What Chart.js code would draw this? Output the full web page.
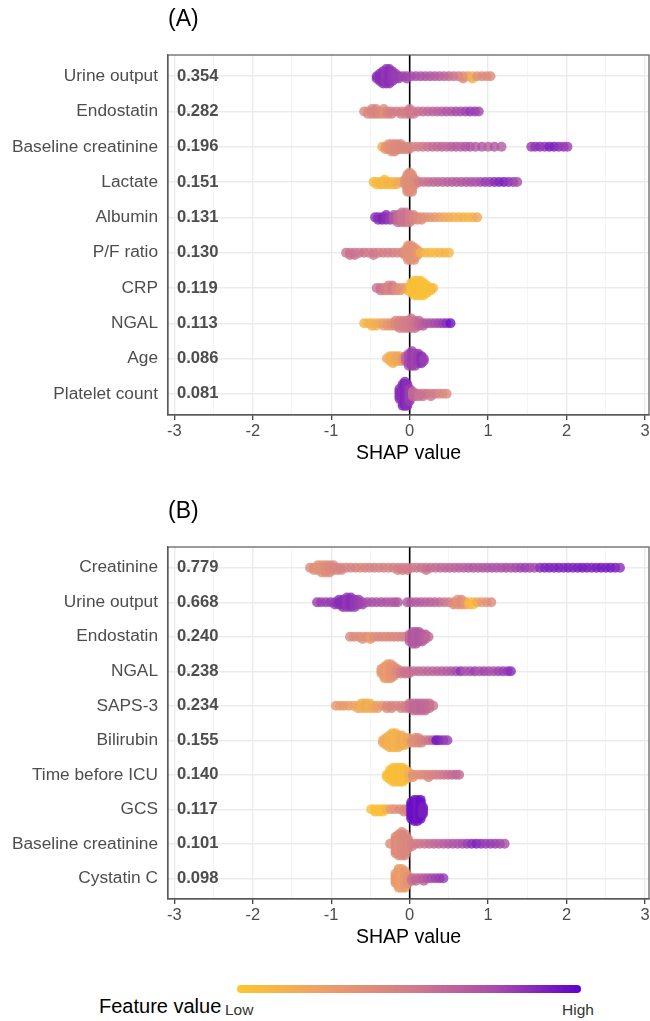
<!DOCTYPE html>
<html>
<head>
<meta charset="utf-8">
<script src="https://cdn.jsdelivr.net/npm/chart.js@4.4.1/dist/chart.umd.min.js"></script>
<style>
  body { margin: 0; background: #fff; font-family: "Liberation Sans", Arial, sans-serif; overflow: hidden; }
  #wrap { position: relative; width: 650px; height: 1021px; overflow: hidden; }
  canvas { position: absolute; left: 0; }
  #chartA { top: 0; }
  #chartB { top: 492px; }
  .lg { position: absolute; line-height: 1; white-space: nowrap; }
  #lgTitle { left: 99px; top: 996px; font-size: 20px; color: #000; }
  #lgBar { position: absolute; left: 237px; top: 985px; width: 344px; height: 8px; border-radius: 4px; }
  #lgLow { left: 225px; top: 1002px; font-size: 15.5px; color: #333; }
  #lgHigh { left: 562px; top: 1002px; font-size: 15.5px; color: #333; }
</style>
</head>
<body>
<div id="wrap">
  <canvas id="chartA" width="654" height="470"></canvas>
  <canvas id="chartB" width="654" height="462"></canvas>
  <div class="lg" id="lgTitle">Feature value</div>
  <div id="lgBar"></div>
  <div class="lg" id="lgLow">Low</div>
  <div class="lg" id="lgHigh">High</div>
</div>
<script>
// Panel A: features, mean |SHAP|
const featuresA = ['Urine output', 'Endostatin', 'Baseline creatinine', 'Lactate', 'Albumin',
  'P/F ratio', 'CRP', 'NGAL', 'Age', 'Platelet count'];
const importanceA = [0.354, 0.282, 0.196, 0.151, 0.131, 0.130, 0.119, 0.113, 0.086, 0.081];

// Panel B
const featuresB = ['Creatinine', 'Urine output', 'Endostatin', 'NGAL', 'SAPS-3', 'Bilirubin',
  'Time before ICU', 'GCS', 'Baseline creatinine', 'Cystatin C'];
const importanceB = [0.779, 0.668, 0.240, 0.238, 0.234, 0.155, 0.140, 0.117, 0.101, 0.098];

const a_urine = [[-0.42,2,.85],[-0.38,4,.85],[-0.34,6,.85],[-0.30,7,.82],[-0.26,7,.85],[-0.22,5,.82],[-0.18,3,.8],[-0.14,2,.8],[-0.09,1,.78],[-0.04,2,.78],[0.02,1,.76],[0.08,1,.75],[0.14,1,.72],[0.2,1,.72],[0.26,1,.7],[0.32,1,.68],[0.38,1,.66],[0.44,1,.62],[0.5,1,.6],[0.56,1,.55],[0.62,1,.5],[0.68,2,.4],[0.74,1,.3],[0.8,2,.15],[0.86,1,.35],[0.92,1,.4],[0.98,1,.4],[1.03,1,.4]];
const a_endo = [[-0.58,1,.42],[-0.53,2,.4],[-0.48,3,.42],[-0.43,3,.45],[-0.38,2,.42],[-0.33,3,.38],[-0.28,2,.45],[-0.23,2,.48],[-0.17,1,.5],[-0.11,2,.5],[-0.05,2,.48],[0.0,3,.52],[0.05,2,.5],[0.11,1,.55],[0.17,1,.58],[0.23,1,.6],[0.29,1,.62],[0.35,1,.65],[0.41,1,.66],[0.47,1,.7],[0.53,1,.7],[0.59,1,.75],[0.65,1,.75],[0.71,1,.78],[0.77,1,.82],[0.83,1,.8],[0.88,1,.78]];
const a_bcreat = [[-0.35,1,.15],[-0.31,2,.3],[-0.27,3,.35],[-0.23,4,.38],[-0.19,4,.4],[-0.15,3,.4],[-0.11,3,.42],[-0.06,2,.42],[-0.01,2,.42],[0.05,1,.45],[0.11,1,.48],[0.17,1,.5],[0.23,1,.55],[0.29,1,.58],[0.35,1,.6],[0.41,1,.62],[0.47,1,.6],[0.53,1,.65],[0.59,1,.68],[0.65,1,.65],[0.71,1,.7],[0.77,1,.72],[0.84,1,.68],[0.92,1,.7],[1.0,1,.65],[1.08,1,.7],[1.17,1,.68],[1.55,1,.8],[1.6,1,.82],[1.66,1,.85],[1.72,1,.82],[1.78,1,.9],[1.84,1,.9],[1.9,1,.85],[1.96,1,.82],[2.01,1,.8]];
const a_lact = [[-0.46,1,.1],[-0.42,2,.08],[-0.37,2,.1],[-0.32,3,.08],[-0.27,2,.12],[-0.22,2,.1],[-0.17,2,.15],[-0.12,1,.2],[-0.06,3,.35],[-0.03,8,.38],[0.0,9,.38],[0.03,8,.38],[0.07,3,.4],[0.12,1,.5],[0.18,1,.55],[0.24,1,.58],[0.3,1,.6],[0.36,1,.62],[0.42,1,.62],[0.48,1,.65],[0.54,1,.66],[0.6,1,.68],[0.66,1,.68],[0.72,1,.7],[0.78,1,.72],[0.84,1,.72],[0.9,1,.75],[0.96,1,.8],[1.02,1,.8],[1.08,1,.85],[1.14,1,.88],[1.2,1,.9],[1.26,1,.85],[1.32,1,.8],[1.37,1,.75]];
const a_alb = [[-0.44,1,.85],[-0.4,2,.85],[-0.35,2,.88],[-0.3,3,.85],[-0.25,2,.8],[-0.2,3,.7],[-0.15,4,.6],[-0.1,5,.55],[-0.05,5,.55],[0.0,4,.5],[0.05,3,.45],[0.1,2,.4],[0.15,2,.38],[0.2,1,.35],[0.26,1,.35],[0.32,1,.3],[0.38,1,.25],[0.44,1,.2],[0.5,1,.18],[0.56,1,.15],[0.62,1,.12],[0.68,1,.15],[0.74,1,.1],[0.8,1,.12],[0.86,1,.2]];
const a_pf = [[-0.81,1,.55],[-0.76,2,.55],[-0.7,2,.55],[-0.64,1,.52],[-0.58,1,.55],[-0.52,1,.5],[-0.46,2,.52],[-0.4,1,.5],[-0.34,1,.5],[-0.28,1,.48],[-0.22,1,.5],[-0.16,1,.45],[-0.1,1,.45],[-0.06,3,.38],[-0.02,7,.35],[0.02,7,.35],[0.06,6,.35],[0.1,3,.3],[0.14,1,.15],[0.2,1,.1],[0.26,1,.1],[0.32,1,.08],[0.38,1,.1],[0.44,1,.12],[0.5,1,.1]];
const a_crp = [[-0.42,1,.55],[-0.37,2,.55],[-0.32,2,.5],[-0.27,3,.45],[-0.22,3,.5],[-0.17,2,.4],[-0.12,2,.35],[-0.07,1,.3],[-0.02,2,.2],[0.02,5,.05],[0.06,7,.05],[0.1,7,.05],[0.14,7,.05],[0.18,6,.05],[0.22,4,.05],[0.27,2,.05],[0.3,1,.08]];
const a_ngal = [[-0.58,1,.12],[-0.53,1,.15],[-0.48,2,.12],[-0.43,2,.15],[-0.38,1,.2],[-0.33,2,.25],[-0.28,2,.3],[-0.23,2,.35],[-0.18,3,.4],[-0.13,4,.45],[-0.08,4,.48],[-0.03,4,.5],[0.02,5,.52],[0.07,4,.55],[0.12,3,.6],[0.17,2,.65],[0.22,1,.7],[0.27,1,.72],[0.32,1,.75],[0.37,1,.78],[0.42,1,.8],[0.47,1,.85],[0.52,1,.95]];
const a_age = [[-0.29,1,.2],[-0.25,3,.15],[-0.21,4,.15],[-0.17,3,.2],[-0.13,3,.2],[-0.09,2,.3],[-0.05,3,.6],[-0.01,6,.75],[0.03,7,.8],[0.07,6,.78],[0.11,5,.8],[0.15,4,.85],[0.18,2,.8]];
const a_plat = [[-0.13,5,.85],[-0.09,10,.85],[-0.06,11,.88],[-0.03,10,.85],[0.0,6,.8],[0.04,3,.6],[0.08,2,.6],[0.12,2,.55],[0.17,2,.55],[0.22,1,.55],[0.27,2,.5],[0.32,1,.5],[0.37,1,.45],[0.42,1,.42],[0.47,1,.4]];

const b_creat = [[-1.27,1,.4],[-1.22,2,.38],[-1.17,3,.35],[-1.12,4,.35],[-1.07,4,.38],[-1.02,4,.4],[-0.97,3,.42],[-0.92,2,.42],[-0.87,2,.45],[-0.81,1,.45],[-0.75,1,.45],[-0.69,1,.45],[-0.63,1,.42],[-0.57,1,.45],[-0.51,1,.45],[-0.45,1,.48],[-0.39,1,.45],[-0.33,1,.48],[-0.27,1,.45],[-0.21,1,.48],[-0.15,2,.48],[-0.09,2,.5],[-0.03,2,.5],[0.03,1,.52],[0.09,1,.52],[0.15,1,.55],[0.21,2,.55],[0.27,1,.58],[0.33,1,.58],[0.39,1,.6],[0.45,1,.6],[0.51,1,.62],[0.57,1,.62],[0.63,1,.65],[0.69,1,.65],[0.75,1,.68],[0.81,1,.7],[0.87,1,.68],[0.93,1,.7],[0.99,1,.7],[1.05,1,.72],[1.11,1,.72],[1.17,1,.72],[1.23,1,.75],[1.29,1,.72],[1.35,1,.75],[1.41,1,.78],[1.47,1,.8],[1.53,1,.78],[1.59,1,.75],[1.66,1,.85],[1.72,1,.88],[1.78,1,.9],[1.84,1,.88],[1.9,1,.9],[1.96,1,.88],[2.02,1,.9],[2.08,1,.88],[2.14,1,.9],[2.2,1,.92],[2.26,1,.9],[2.32,1,.88],[2.38,1,.9],[2.44,1,.92],[2.5,1,.9],[2.56,1,.92],[2.62,1,.9],[2.68,1,.85]];
const b_urine = [[-1.18,1,.8],[-1.13,1,.8],[-1.07,1,.8],[-1.01,1,.82],[-0.95,2,.82],[-0.9,3,.85],[-0.85,4,.85],[-0.8,5,.82],[-0.75,5,.85],[-0.7,4,.82],[-0.65,3,.8],[-0.6,2,.78],[-0.54,1,.75],[-0.48,1,.75],[-0.42,1,.72],[-0.36,1,.72],[-0.3,1,.72],[-0.24,1,.7],[-0.19,1,.7],[-0.15,1,.7],[-0.03,1,.7],[0.02,1,.7],[0.08,1,.68],[0.14,1,.68],[0.2,1,.65],[0.26,1,.65],[0.32,1,.62],[0.38,1,.6],[0.44,1,.55],[0.5,1,.5],[0.56,2,.4],[0.61,3,.35],[0.66,3,.38],[0.71,2,.3],[0.76,2,.1],[0.81,2,.05],[0.86,1,.2],[0.92,1,.3],[0.98,1,.35],[1.04,1,.4]];
const b_endo = [[-0.76,1,.42],[-0.71,1,.4],[-0.65,1,.4],[-0.6,2,.35],[-0.55,1,.38],[-0.5,2,.3],[-0.45,1,.38],[-0.4,1,.4],[-0.35,1,.42],[-0.3,1,.4],[-0.25,1,.42],[-0.2,1,.42],[-0.15,1,.42],[-0.1,1,.45],[-0.05,1,.45],[0.0,4,.62],[0.04,6,.7],[0.08,6,.68],[0.12,5,.7],[0.16,4,.68],[0.2,3,.65],[0.24,1,.6]];
const b_ngal = [[-0.36,3,.3],[-0.32,6,.3],[-0.28,7,.28],[-0.24,7,.32],[-0.2,5,.35],[-0.16,3,.4],[-0.11,2,.5],[-0.06,2,.55],[-0.01,2,.55],[0.05,1,.58],[0.11,1,.6],[0.17,1,.6],[0.23,1,.62],[0.29,1,.62],[0.35,1,.65],[0.41,1,.65],[0.47,1,.68],[0.53,1,.7],[0.59,1,.75],[0.65,1,.85],[0.71,1,.72],[0.77,1,.75],[0.83,1,.8],[0.89,1,.72],[0.95,1,.78],[1.01,1,.75],[1.07,1,.72],[1.13,1,.78],[1.19,1,.8],[1.25,1,.82],[1.29,1,.85]];
const b_saps = [[-0.94,1,.3],[-0.89,1,.28],[-0.84,1,.3],[-0.78,1,.28],[-0.72,1,.25],[-0.66,2,.2],[-0.61,3,.15],[-0.56,3,.18],[-0.51,3,.15],[-0.46,2,.2],[-0.41,2,.25],[-0.35,1,.3],[-0.29,2,.4],[-0.23,2,.45],[-0.17,1,.42],[-0.11,2,.45],[-0.05,2,.48],[0.0,3,.55],[0.05,4,.6],[0.1,4,.6],[0.15,4,.62],[0.2,4,.6],[0.25,3,.58],[0.3,1,.55]];
const b_bili = [[-0.34,2,.2],[-0.3,4,.18],[-0.26,6,.15],[-0.22,7,.15],[-0.18,7,.12],[-0.14,6,.15],[-0.1,5,.18],[-0.06,4,.15],[-0.02,3,.2],[0.03,2,.35],[0.07,3,.38],[0.11,3,.4],[0.15,2,.45],[0.2,1,.5],[0.25,1,.55],[0.3,1,.65],[0.34,1,.95],[0.38,1,.9],[0.43,1,.85],[0.48,1,.8]];
const b_time = [[-0.29,2,.05],[-0.25,5,.05],[-0.21,7,.05],[-0.17,7,.05],[-0.13,7,.08],[-0.09,7,.05],[-0.05,5,.08],[-0.01,3,.15],[0.04,2,.35],[0.09,1,.35],[0.14,1,.38],[0.19,1,.4],[0.24,2,.42],[0.29,1,.45],[0.34,1,.48],[0.39,1,.5],[0.44,1,.52],[0.49,1,.55],[0.54,1,.58],[0.59,1,.6],[0.63,1,.6]];
const b_gcs = [[-0.49,1,.05],[-0.44,2,.05],[-0.39,2,.05],[-0.34,2,.05],[-0.29,1,.15],[-0.24,1,.3],[-0.19,1,.35],[-0.13,1,.4],[-0.07,2,.42],[-0.02,2,.45],[0.02,8,.95],[0.06,10,.95],[0.1,10,.92],[0.14,9,.95],[0.17,4,.9]];
const b_bcreat = [[-0.25,1,.4],[-0.18,8,.4],[-0.14,10,.38],[-0.1,11,.4],[-0.06,10,.42],[-0.02,5,.42],[0.03,2,.48],[0.08,1,.5],[0.13,1,.52],[0.19,1,.55],[0.25,1,.58],[0.31,1,.6],[0.37,1,.62],[0.43,1,.65],[0.49,1,.68],[0.55,1,.7],[0.61,1,.72],[0.67,1,.75],[0.73,1,.8],[0.79,1,.85],[0.85,1,.9],[0.91,1,.85],[0.97,1,.8],[1.03,1,.82],[1.09,1,.8],[1.15,1,.78],[1.21,1,.75]];
const b_cyst = [[-0.18,5,.3],[-0.14,9,.28],[-0.1,9,.25],[-0.06,8,.3],[-0.02,4,.35],[0.03,2,.55],[0.08,2,.6],[0.13,1,.62],[0.18,2,.65],[0.23,1,.7],[0.28,1,.75],[0.33,1,.78],[0.38,1,.8],[0.43,1,.82]];

const swarmA = [a_urine, a_endo, a_bcreat, a_lact, a_alb, a_pf, a_crp, a_ngal, a_age, a_plat];
const swarmB = [b_creat, b_urine, b_endo, b_ngal, b_saps, b_bili, b_time, b_gcs, b_bcreat, b_cyst];

// colour scale low -> high
const colorStops = [[0, [252, 199, 46]], [0.25, [236, 160, 104]], [0.5, [210, 125, 137]], [0.75, [168, 76, 170]], [1, [92, 0, 204]]];

function featureColor(v, alpha) {
  let i = 0;
  while (i < colorStops.length - 2 && v > colorStops[i + 1][0]) i++;
  const [p0, c0] = colorStops[i], [p1, c1] = colorStops[i + 1];
  const t = Math.min(1, Math.max(0, (v - p0) / (p1 - p0)));
  const c = c0.map((ch, k) => Math.round(ch + (c1[k] - ch) * t));
  return 'rgba(' + c.join(',') + ',' + alpha + ')';
}

// stack tied observations around the row centre
const stepY = 0.068;
function swarm(bins, row) {
  const pts = [];
  bins.forEach(([sx, n, v]) => {
    for (let k = 0; k < n; k++) {
      const lvl = Math.ceil(k / 2) * (k % 2 ? 1 : -1);
      pts.push({ x: sx, y: row + lvl * stepY, c: featureColor(v, 0.8) });
    }
  });
  return pts;
}

const FONT = '"Liberation Sans", Arial, sans-serif';
Chart.defaults.font.family = FONT;

const panelDecor = {
  id: 'panelDecor',
  beforeDatasetsDraw(chart) {
    const { ctx, chartArea: a, scales: { x } } = chart;
    const zx = x.getPixelForValue(0);
    ctx.save();
    ctx.strokeStyle = '#000';
    ctx.lineWidth = 1.6;
    ctx.beginPath();
    ctx.moveTo(zx, a.top);
    ctx.lineTo(zx, a.bottom);
    ctx.stroke();
    ctx.restore();
  },
  afterDraw(chart, args, opts) {
    const { ctx, chartArea: a, scales: { y } } = chart;
    ctx.save();
    ctx.strokeStyle = '#595959';
    ctx.lineWidth = 1.2;
    ctx.strokeRect(a.left, a.top, a.right - a.left, a.bottom - a.top);
    ctx.font = 'bold 16.6px ' + FONT;
    ctx.fillStyle = '#4d4d4d';
    ctx.textBaseline = 'middle';
    ctx.textAlign = 'left';
    opts.importance.forEach((v, i) => ctx.fillText(v.toFixed(3), a.left + 9, y.getPixelForValue(i + 1)));
    ctx.font = '23px ' + FONT;
    ctx.fillStyle = '#000';
    ctx.fillText(opts.tag, a.left, 20);
    ctx.restore();
  }
};

const isMajor = c => c.tick && Number.isInteger(c.tick.value);

function makeChart(id, features, importance, swarms, tag) {
  const points = [];
  swarms.forEach((bins, i) => points.push(...swarm(bins, i + 1)));
  return new Chart(document.getElementById(id), {
    type: 'scatter',
    data: {
      datasets: [{
        data: points,
        backgroundColor: c => (c.raw ? c.raw.c : '#000'),
        pointRadius: 5,
        pointHoverRadius: 5,
        borderWidth: 0
      }]
    },
    options: {
      responsive: false,
      animation: false,
      events: [],
      layout: { padding: { top: 55, right: 1, bottom: 5, left: 0 } },
      plugins: {
        legend: { display: false },
        tooltip: { enabled: false },
        panelDecor: { tag: tag, importance: importance }
      },
      scales: {
        x: {
          type: 'linear',
          min: -3.08,
          max: 3.05,
          afterFit: s => { s.height = 50; },
          ticks: {
            stepSize: 0.5,
            includeBounds: false,
            autoSkip: false,
            maxRotation: 0,
            padding: 2,
            color: '#4d4d4d',
            font: { size: 16.5 },
            callback: v => (Number.isInteger(v) ? String(v) : '')
          },
          grid: {
            color: c => (isMajor(c) ? '#ebebeb' : '#f2f2f2'),
            lineWidth: c => (isMajor(c) ? 1.4 : 0.8),
            tickColor: c => (isMajor(c) ? '#333333' : 'rgba(0,0,0,0)'),
            tickLength: 5,
            tickWidth: 1.2
          },
          border: { color: '#595959', width: 1.2 },
          title: { display: true, text: 'SHAP value', color: '#000', font: { size: 19.5 }, padding: { top: 0, bottom: 0 } }
        },
        y: {
          type: 'linear',
          reverse: true,
          min: 0.4,
          max: 10.6,
          afterFit: s => { s.width = 168; },
          ticks: {
            stepSize: 1,
            includeBounds: false,
            autoSkip: false,
            padding: 10,
            color: '#4d4d4d',
            font: { size: 17.3 },
            callback: v => features[v - 1]
          },
          grid: { color: '#ebebeb', lineWidth: 1.4, drawTicks: false },
          border: { color: '#595959', width: 1.2 }
        }
      }
    },
    plugins: [panelDecor]
  });
}

makeChart('chartA', featuresA, importanceA, swarmA, '(A)');
makeChart('chartB', featuresB, importanceB, swarmB, '(B)');

// legend bar from the same colour stops
document.getElementById('lgBar').style.background =
  'linear-gradient(to right,' + colorStops.map(([p]) => featureColor(p, 1) + ' ' + (p * 100) + '%').join(',') + ')';
</script>
</body>
</html>
